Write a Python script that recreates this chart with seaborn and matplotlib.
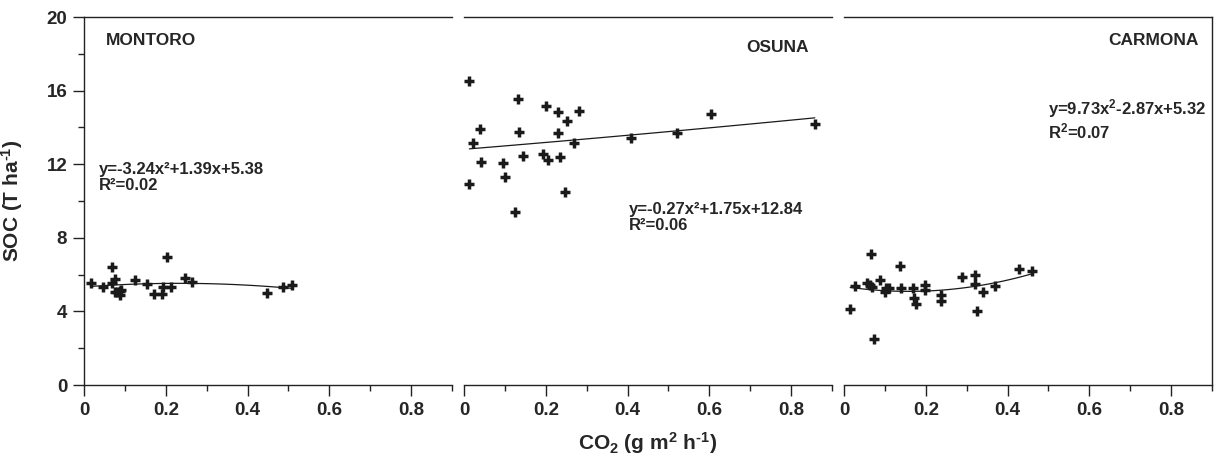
import numpy as np
import pandas as pd
import matplotlib
matplotlib.use("Agg")
import matplotlib.pyplot as plt
import seaborn as sns

# --- values ---
sites = ["MONTORO", "OSUNA", "CARMONA"]

montoro_co2 = [0.016, 0.047, 0.068, 0.068, 0.075, 0.075, 0.081, 0.088, 0.088, 0.091, 0.124,
               0.153, 0.171, 0.192, 0.193, 0.203, 0.213, 0.248, 0.264, 0.447, 0.486, 0.510]
montoro_soc = [5.53, 5.34, 6.43, 5.56, 5.74, 5.07, 5.07, 5.13, 4.89, 5.16, 5.71,
               5.49, 4.95, 4.95, 5.34, 6.97, 5.34, 5.82, 5.60, 4.98, 5.31, 5.42]

osuna_co2 = [0.013, 0.133, 0.200, 0.229, 0.282, 0.251, 0.039, 0.135, 0.229, 0.021, 0.270, 0.408, 0.522,
             0.604, 0.858, 0.042, 0.096, 0.143, 0.192, 0.205, 0.235, 0.013, 0.100, 0.248, 0.125]
osuna_soc = [16.52, 15.54, 15.16, 14.82, 14.89, 14.37, 13.89, 13.75, 13.71, 13.17, 13.17, 13.44, 13.71,
             14.71, 14.17, 12.10, 12.05, 12.46, 12.55, 12.23, 12.37, 10.92, 11.32, 10.47, 9.40]

carmona_co2 = [0.015, 0.027, 0.065, 0.057, 0.063, 0.069, 0.073, 0.088, 0.099, 0.102, 0.110, 0.136, 0.140, 0.169,
               0.171, 0.176, 0.199, 0.199, 0.236, 0.237, 0.289, 0.320, 0.320, 0.324, 0.340, 0.370, 0.428, 0.459]
carmona_soc = [4.13, 5.40, 7.10, 5.56, 5.43, 5.34, 2.50, 5.71, 5.07, 5.29, 5.29, 6.47, 5.25, 5.25,
               4.71, 4.38, 5.43, 5.16, 4.89, 4.57, 5.89, 5.96, 5.47, 4.02, 5.07, 5.38, 6.29, 6.20]

equations = ["y=-3.24x\u00b2+1.39x+5.38\nR\u00b2=0.02",
             "y=-0.27x\u00b2+1.75x+12.84\nR\u00b2=0.06",
             "y=9.73x$^{2}$-2.87x+5.32\nR$^{2}$=0.07"]

xticks = [0, 0.2, 0.4, 0.6, 0.8]
xtick_labels = ["0", "0.2", "0.4", "0.6", "0.8"]
yticks = [0, 4, 8, 12, 16, 20]
ytick_labels = ["0", "4", "8", "12", "16", "20"]

sns.set_theme(style="ticks")
plt.rcParams["font.family"] = ["Liberation Sans", "DejaVu Sans"]
plt.rcParams["font.weight"] = "bold"
plt.rcParams["mathtext.fontset"] = "custom"
plt.rcParams["mathtext.rm"] = "Liberation Sans:bold"
plt.rcParams["mathtext.it"] = "Liberation Sans:bold"
plt.rcParams["mathtext.bf"] = "Liberation Sans:bold"
plt.rcParams["mathtext.default"] = "rm"

fig, axes = plt.subplots(1, 3, figsize=(12.19, 4.57), dpi=100, sharey=True)
fig.subplots_adjust(left=84/1219, right=1212/1219, bottom=72/457, top=440/457, wspace=0.033)

data = [(montoro_co2, montoro_soc), (osuna_co2, osuna_soc), (carmona_co2, carmona_soc)]
# where the site names and equations sit in each panel (axes fraction)
title_pos = [(0.06, 0.935, "left"), (0.937, 0.918, "right"), (0.965, 0.936, "right")]
eq_pos = [(0.041, 0.606), (0.448, 0.498), (0.553, 0.783)]

axcol = "#222222"
for i, ax in enumerate(axes):
    x, y = data[i]
    sns.regplot(x=x, y=y, ax=ax, order=2, ci=None, color="k", marker="+",
                scatter_kws={"s": 55, "linewidths": 2.5, "alpha": 1},
                line_kws={"lw": 0.9})
    ax.set_xlim(0, 0.9)
    ax.set_ylim(0, 20)
    ax.set_xticks(xticks)
    ax.set_xticklabels(xtick_labels)
    ax.set_xticks([0.1, 0.3, 0.5, 0.7, 0.9], minor=True)
    ax.tick_params(axis="both", which="major", length=8, width=1, color=axcol,
                   labelsize=13.5, pad=4)
    ax.tick_params(axis="both", which="minor", length=4, width=1, color=axcol)
    for sp in ax.spines.values():
        sp.set_color(axcol)
        sp.set_linewidth(1.0)
    ax.spines["top"].set_visible(True)
    ax.spines["right"].set_visible(i == 2)
    ax.spines["left"].set_visible(i == 0)
    if i > 0:
        ax.tick_params(axis="y", which="both", left=False, labelleft=False)

    tx, ty, ha = title_pos[i]
    ax.text(tx, ty, sites[i], transform=ax.transAxes, ha=ha, va="center",
            fontsize=12.5, fontweight="bold")
    ex, ey = eq_pos[i]
    ax.text(ex, ey, equations[i], transform=ax.transAxes, ha="left", va="top",
            fontsize=12, fontweight="bold", linespacing=1.1)

axes[0].set_yticks(yticks)
axes[0].set_yticklabels(ytick_labels)
axes[0].set_yticks([2, 6, 10, 14, 18], minor=True)
# hyphen instead of the mathtext minus sign, like the original
axes[0].set_ylabel("SOC (T ha$^{\u20101}$)", fontsize=15, fontweight="bold")
axes[0].yaxis.set_label_coords(-0.16, 0.5)
axes[1].set_xlabel("CO$_2$ (g m$^2$ h$^{\u20101}$)", fontsize=15, fontweight="bold")
axes[1].xaxis.set_label_coords(0.5, -0.122)

plt.savefig("out.png", dpi=100)
